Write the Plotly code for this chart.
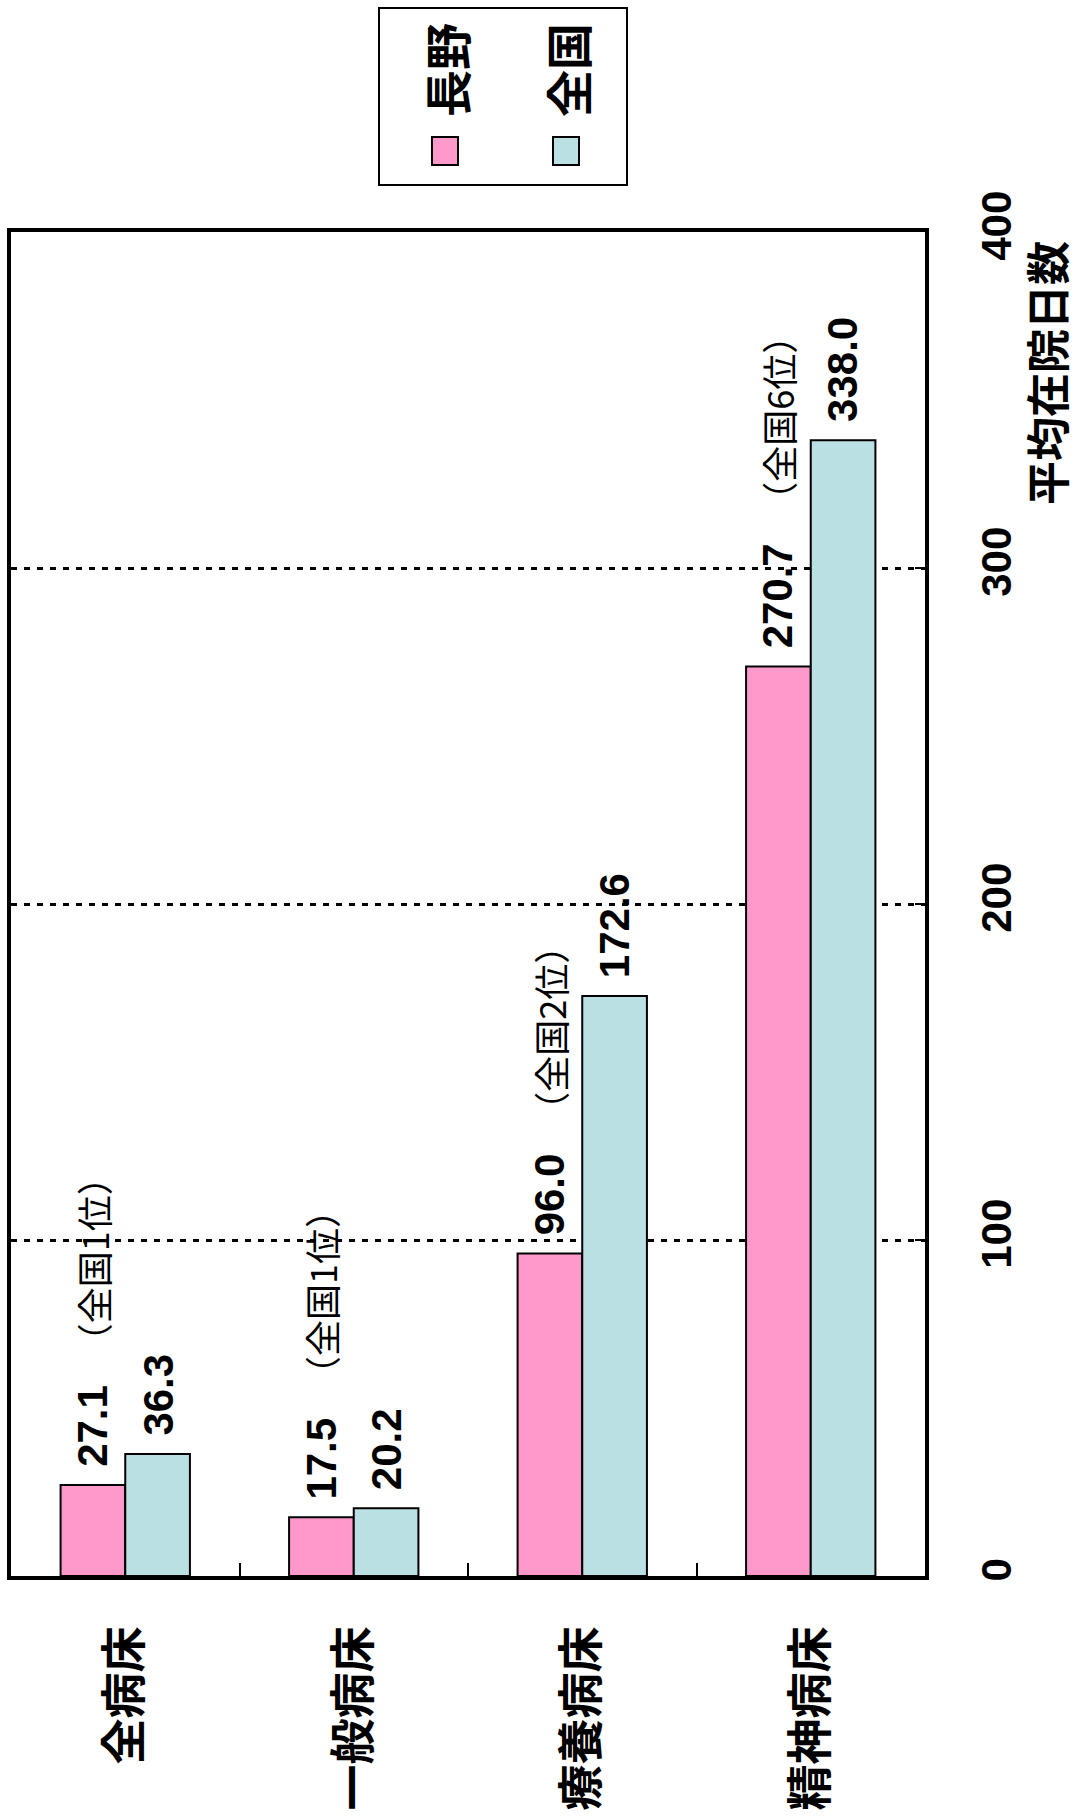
import plotly.graph_objects as go

# ---- data -------------------------------------------------------------
categories = ["全病床", "一般病床", "療養病床", "精神病床"]
series_names = ["長野", "全国"]
nagano = [27.1, 17.5, 96.0, 270.7]
zenkoku = [36.3, 20.2, 172.6, 338.0]
ranks = ["（全国1位）", "（全国1位）", "（全国2位）", "（全国6位）"]
y_ticks = [0, 100, 200, 300, 400]
axis_title = "平均在院日数"

# ---- geometry / style -------------------------------------------------
W, H = 1081, 1816
L, R, T, B = 11, 925, 232, 1576          # plot area edges (px)
PINK = "#FF99CC"
CYAN = "#BBE0E3"
NUM_FONT = "Liberation Sans, Arial, sans-serif"
JP_FONT = "Noto Sans CJK JP, sans-serif"
BARGAP = 0.434
NUM_SIZE = 42


def px(xp):
    return (xp - L) / (R - L)


def py(yp):
    return (B - yp) / (B - T)


fig = go.Figure()
for name, vals, color in zip(series_names, [nagano, zenkoku], [PINK, CYAN]):
    fig.add_trace(go.Bar(
        x=categories, y=vals, name=name,
        marker=dict(color=color, line=dict(color="black", width=2)),
        showlegend=False,
    ))

half = (1 - BARGAP) / 4   # offset of each bar centre from the group centre

annotations = []
for i, (a, z, rank) in enumerate(zip(nagano, zenkoku, ranks)):
    for off, v in ((-half, a), (half, z)):
        annotations.append(dict(
            x=i + off, y=v, xref="x", yref="y", text=f"{v:.1f}",
            textangle=-90, showarrow=False, xanchor="center", yanchor="bottom",
            yshift=16,
            font=dict(family=NUM_FONT, size=NUM_SIZE, color="black", weight="bold"),
        ))
    label = f"{a:.1f}"
    label_len = NUM_SIZE * (0.556 * (len(label) - 1) + 0.278)
    annotations.append(dict(
        x=i - half, y=a, xref="x", yref="y", text=rank,
        textangle=-90, showarrow=False, xanchor="center", yanchor="bottom",
        yshift=16 + label_len + 26, xshift=0,
        font=dict(family=JP_FONT, size=36, color="black"),
    ))

# value-axis title
annotations.append(dict(
    x=px(1046), y=py(373), xref="paper", yref="paper", text=axis_title,
    textangle=-90, showarrow=False, xanchor="center", yanchor="middle",
    borderpad=0,
    font=dict(family=JP_FONT, size=44, color="black", weight="bold"),
))

# legend: framed box with two swatches and rotated names
shapes = [dict(
    type="rect", xref="paper", yref="paper",
    x0=px(379), x1=px(627), y0=py(185), y1=py(8),
    line=dict(color="black", width=2), fillcolor="white",
)]
for name, color, cx in zip(series_names, [PINK, CYAN], [445, 566]):
    shapes.append(dict(
        type="rect", xref="paper", yref="paper",
        x0=px(cx - 13), x1=px(cx + 13), y0=py(165), y1=py(137),
        line=dict(color="black", width=2), fillcolor=color,
    ))
    annotations.append(dict(
        x=px(cx), y=py(70), xref="paper", yref="paper", text=name,
        textangle=-90, showarrow=False, xanchor="center", yanchor="middle",
        font=dict(family=JP_FONT, size=47, color="black", weight="bold"),
    ))

fig.update_layout(
    width=W, height=H,
    margin=dict(l=L, r=W - R, t=T, b=H - B, autoexpand=False),
    paper_bgcolor="white", plot_bgcolor="white",
    barmode="group", bargap=BARGAP, bargroupgap=0,
    showlegend=False,
    annotations=annotations, shapes=shapes,
)
fig.update_xaxes(
    type="category", range=[-0.5, 3.5],
    tickson="boundaries", ticks="inside", ticklen=13, tickwidth=2, tickcolor="black",
    showline=True, linewidth=4, linecolor="black", mirror=True,
    showgrid=False, tickangle=-90, ticklabelstandoff=28,
    tickfont=dict(family=JP_FONT, size=46, color="black", weight="bold"),
    automargin=False,
)
fig.update_yaxes(
    side="right", range=[0, 400], tickvals=y_ticks,
    ticks="inside", ticklen=10, tickwidth=2, tickcolor="black",
    showline=True, linewidth=4, linecolor="black", mirror=True,
    showgrid=True, gridcolor="black", gridwidth=3, griddash="6px,7px",
    zeroline=False, tickangle=-90, ticklabelstandoff=32,
    tickfont=dict(family=NUM_FONT, size=NUM_SIZE, color="black", weight="bold"),
    automargin=False,
)

fig.write_html("out.html")
